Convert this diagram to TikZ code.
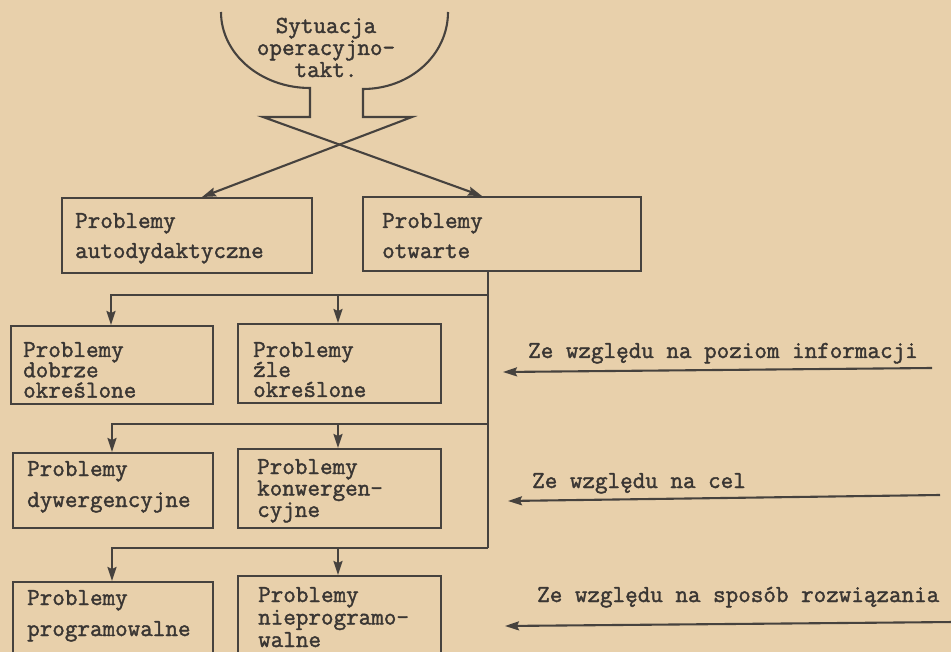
\documentclass[tikz,border=0pt]{standalone}
\usepackage{fontspec}
\usetikzlibrary{arrows.meta}
\newfontfamily\tw{Latin Modern Mono}[FakeBold=1.6]
\definecolor{paper}{HTML}{E8D0AB}
\definecolor{ink}{HTML}{46423E}
\definecolor{tink}{HTML}{3A3633}
\newcommand\twf[1]{\tw\fontsize{24.4}{#1}\selectfont\lineskiplimit=-100pt\lineskip=0pt\relax}
\tikzset{
  box/.style={draw=ink, line width=2.3pt, inner sep=0pt, anchor=north west},
  tx/.style={text=tink, inner sep=0pt, anchor=base west, align=left, text width=300pt},
  lab/.style={text=tink, inner sep=0pt, anchor=base west, font=\twf{24}},
  ln/.style={draw=ink, line width=2.3pt},
  arr/.style={draw=ink, line width=2.1pt, -{Stealth[length=14pt,width=9pt,inset=2pt]}},
}
\begin{document}
\begin{tikzpicture}[x=1pt,y=-1pt]
\fill[paper] (0,0) rectangle (951,652);
\useasboundingbox (0,0) rectangle (951,652);
\clip (0,0) rectangle (951,652);

% top text
\node[text=tink, font=\twf{22}, align=center, text width=170pt, anchor=base, inner sep=0pt] (top) at (326,33) {Sytuacja\\operacyjno-\\takt.};

% boxes
\node[box, minimum width=250pt, minimum height=75pt] (b1) at (61,197) {};
\node[box, minimum width=278pt, minimum height=74pt] (b2) at (362,196) {};
\node[box, minimum width=202pt, minimum height=78pt] (b3) at (10,325) {};
\node[box, minimum width=203pt, minimum height=79pt] (b4) at (237,323) {};
\node[box, minimum width=200pt, minimum height=75pt] (b5) at (12,452) {};
\node[box, minimum width=203pt, minimum height=79pt] (b6) at (237,448) {};
\node[box, minimum width=200pt, minimum height=120pt] (b7) at (12,581) {};
\node[box, minimum width=203pt, minimum height=120pt] (b8) at (237,575) {};

% box texts
\node[tx, font={\twf{30}}] (t1) at (75,228) {Problemy\\autodydaktyczne};
\node[tx, font={\twf{30}}] (t2) at (382,228) {Problemy\\otwarte};
\node[tx, font={\twf{20.3}}] (t3) at (23,357) {Problemy\\dobrze\\określone};
\node[tx, font={\twf{20}}] (t4) at (253,357) {Problemy\\źle\\określone};
\node[tx, font={\twf{31}}] (t5) at (27,476) {Problemy\\dywergencyjne};
\node[tx, font={\twf{21.5}}] (t6) at (257,474) {Problemy\\konwergen-\\cyjne};
\node[tx, font={\twf{31}}] (t7) at (27,605) {Problemy\\programowalne};
\node[tx, font={\twf{22.5}}] (t8) at (258,602) {Problemy\\nieprogramo-\\walne};

% top crossing shape
\coordinate (cl) at (221,12);
\coordinate (cr) at (448,12);
\draw[arr] (cl) .. controls (221,54) and (261,88) .. (310,88) -- (310,117) -- (263,117) -- (482,0 |- b2.north);
\draw[arr] (cr) .. controls (448,55) and (410,89) .. (363,89) -- (363,117) -- (412,117) -- (202,0 |- b1.north);

% tree
\coordinate (j1) at (488,295);
\coordinate (j2) at (488,424);
\coordinate (j3) at (488,548);
\draw[ln] (488,0 |- b2.south) -- (j3);
\draw[arr] (j1) -- (111,0 |- j1) -- (111,0 |- b3.north);
\draw[arr] (338,0 |- j1) -- (338,0 |- b4.north);
\draw[arr] (j2) -- (112,0 |- j2) -- (112,0 |- b5.north);
\draw[arr] (338,0 |- j2) -- (338,0 |- b6.north);
\draw[arr] (j3) -- (112,0 |- j3) -- (112,0 |- b7.north);
\draw[arr] (338,0 |- j3) -- (338,0 |- b8.north);

% right side arrows and labels
\coordinate (s1) at (932,368); \coordinate (e1) at (503,372);
\coordinate (s2) at (940,495); \coordinate (e2) at (508,501);
\coordinate (s3) at (955,622); \coordinate (e3) at (505,626);
\draw[arr] (s1) -- (e1);
\draw[arr] (s2) -- (e2);
\draw[arr] (s3) -- (e3);
\node[lab] (l1) at (528,358) {Ze względu na poziom informacji};
\node[lab] (l2) at (532,488) {Ze względu na cel};
\node[lab] (l3) at (537,602) {Ze względu na sposób rozwiązania};
\end{tikzpicture}
\end{document}
